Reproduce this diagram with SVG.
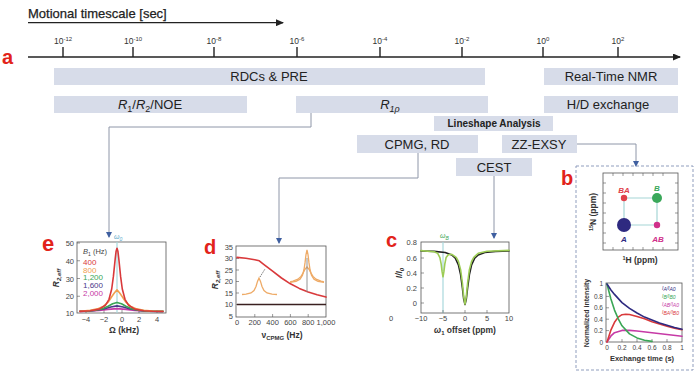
<svg xmlns="http://www.w3.org/2000/svg" width="700" height="374" viewBox="0 0 700 374">
<defs>
<marker id="ah" markerWidth="6" markerHeight="6" refX="5" refY="3" orient="auto" markerUnits="userSpaceOnUse"><path d="M0,0 L6,3 L0,6 Z" fill="#3f5fa0"/></marker>
<marker id="ak" markerWidth="8" markerHeight="7" refX="7" refY="3.5" orient="auto" markerUnits="userSpaceOnUse"><path d="M0,0 L8,3.5 L0,7 Z" fill="#222"/></marker>
<style>
text{font-family:"Liberation Sans",Arial,sans-serif;}
.box{fill:#d7dce9;}
.bt{font-size:13px;fill:#222;text-anchor:middle;}
.tl{font-size:8.5px;fill:#333;text-anchor:middle;}
.lt{font-size:20px;font-weight:bold;fill:#e2231a;}
.fr{fill:#fff;stroke:#555;stroke-width:0.8;}
.tk{font-size:7.5px;fill:#444;}
.tkr{font-size:7.5px;fill:#444;text-anchor:end;}
.tkm{font-size:7.5px;fill:#444;text-anchor:middle;}
.ax{font-size:8.5px;font-weight:bold;fill:#333;text-anchor:middle;}
.cv{fill:none;stroke-width:1.6;stroke-linejoin:round;stroke-linecap:round;}
.con{fill:none;stroke:#8e96a8;stroke-width:1;marker-end:url(#ah);}
.mt{stroke:#555;stroke-width:0.6;}
</style>
</defs>
<rect width="700" height="374" fill="#fff"/>

<!-- timescale -->
<g id="timescale">
<text x="28" y="18" style="font-size:13px;fill:#222;stroke:#222;stroke-width:0.25">Motional timescale [sec]</text>
<line x1="28" y1="22.7" x2="283" y2="22.7" stroke="#222" stroke-width="1.3" marker-end="url(#ak)"/>
<line x1="28" y1="57" x2="680" y2="57" stroke="#222" stroke-width="1.4" marker-end="url(#ak)"/>
<g stroke="#222" stroke-width="1.4">
<line x1="63" y1="47" x2="63" y2="57"/><line x1="133" y1="47" x2="133" y2="57"/><line x1="214" y1="47" x2="214" y2="57"/><line x1="297" y1="47" x2="297" y2="57"/>
<line x1="380" y1="47" x2="380" y2="57"/><line x1="462" y1="47" x2="462" y2="57"/><line x1="543" y1="47" x2="543" y2="57"/><line x1="618" y1="47" x2="618" y2="57"/>
</g>
<text class="tl" x="63" y="44">10<tspan dy="-3" font-size="6">-12</tspan></text>
<text class="tl" x="133" y="44">10<tspan dy="-3" font-size="6">-10</tspan></text>
<text class="tl" x="214" y="44">10<tspan dy="-3" font-size="6">-8</tspan></text>
<text class="tl" x="297" y="44">10<tspan dy="-3" font-size="6">-6</tspan></text>
<text class="tl" x="380" y="44">10<tspan dy="-3" font-size="6">-4</tspan></text>
<text class="tl" x="462" y="44">10<tspan dy="-3" font-size="6">-2</tspan></text>
<text class="tl" x="543" y="44">10<tspan dy="-3" font-size="6">0</tspan></text>
<text class="tl" x="618" y="44">10<tspan dy="-3" font-size="6">2</tspan></text>
<text class="lt" x="2" y="64">a</text>
</g>

<!-- method boxes -->
<g id="rdc"><rect class="box" x="54" y="68" width="431" height="17"/><text class="bt" x="269" y="81">RDCs &amp; PRE</text></g>
<g id="realtime"><rect class="box" x="544" y="68" width="134" height="17"/><text class="bt" x="611" y="81">Real-Time NMR</text></g>
<g id="r1r2noe"><rect class="box" x="54" y="96" width="193" height="17"/><text class="bt" x="150" y="109"><tspan font-style="italic">R</tspan><tspan font-size="9" dy="3">1</tspan><tspan dy="-3">/</tspan><tspan font-style="italic">R</tspan><tspan font-size="9" dy="3">2</tspan><tspan dy="-3">/NOE</tspan></text></g>
<g id="r1rho"><rect class="box" x="296" y="96" width="192" height="17"/><text class="bt" x="390" y="109"><tspan font-style="italic">R</tspan><tspan font-size="9" dy="3" font-style="italic">1ρ</tspan></text></g>
<g id="hd"><rect class="box" x="544" y="96" width="134" height="17"/><text class="bt" x="608" y="109">H/D exchange</text></g>
<g id="lineshape"><rect class="box" x="434" y="116" width="119" height="15"/><text x="494" y="127" style="font-size:10px;font-weight:bold;fill:#222;text-anchor:middle">Lineshape Analysis</text></g>
<g id="cpmg"><rect class="box" x="357" y="135" width="121" height="18"/><text class="bt" x="417" y="149">CPMG, RD</text></g>
<g id="zzexsy"><rect class="box" x="502" y="135" width="75" height="18"/><text class="bt" x="539" y="149">ZZ-EXSY</text></g>
<g id="cest"><rect class="box" x="456" y="158" width="76" height="18"/><text class="bt" x="494" y="172">CEST</text></g>

<!-- connectors -->
<g id="connectors">
<path class="con" d="M311,113 V127 H109 V237"/>
<path class="con" d="M418,153 V178 H279 V243"/>
<path class="con" d="M577,144 H636 V166"/>
<path class="con" d="M494,176 V238"/>
</g>

<!-- panel e -->
<g id="panel-e">
<text class="lt" x="42" y="251" style="font-size:22px">e</text>
<rect class="fr" x="77" y="242" width="89" height="71"/>
<line x1="117" y1="242" x2="117" y2="313" stroke="#a8d8dc" stroke-width="1.2"/>
<text x="114" y="239" style="font-size:7px;fill:#5aa8c8;font-style:italic">ω<tspan font-size="5" dy="1.5">0</tspan></text>
<g class="mt"><line x1="77" y1="243" x2="80" y2="243"/><line x1="77" y1="260.75" x2="80" y2="260.75"/><line x1="77" y1="278.5" x2="80" y2="278.5"/><line x1="77" y1="296.25" x2="80" y2="296.25"/>
<line x1="86" y1="313" x2="86" y2="310"/><line x1="104" y1="313" x2="104" y2="310"/><line x1="122" y1="313" x2="122" y2="310"/><line x1="139" y1="313" x2="139" y2="310"/><line x1="157" y1="313" x2="157" y2="310"/></g>
<text class="tkr" x="74" y="246">50</text><text class="tkr" x="74" y="263.5">40</text><text class="tkr" x="74" y="281.5">30</text><text class="tkr" x="74" y="299">20</text><text class="tkr" x="74" y="316">10</text>
<text class="tkm" x="86" y="322">−4</text><text class="tkm" x="104" y="322">−2</text><text class="tkm" x="122" y="322">0</text><text class="tkm" x="139" y="322">2</text><text class="tkm" x="157" y="322">4</text>
<text class="ax" x="124" y="333">Ω (kHz)</text>
<text class="ax" transform="translate(59,278) rotate(-90)" font-style="italic">R<tspan font-size="6" dy="2">2,eff</tspan></text>
<text x="83" y="254" style="font-size:7.5px;fill:#444"><tspan font-style="italic">B</tspan><tspan font-size="5" dy="1.5">1</tspan><tspan dy="-1.5"> (Hz)</tspan></text>
<text x="83" y="265" style="font-size:8px;fill:#d9393b">400</text>
<text x="83" y="272.5" style="font-size:8px;fill:#f0a050">800</text>
<text x="83" y="280" style="font-size:8px;fill:#3aa655">1,200</text>
<text x="83" y="287.5" style="font-size:8px;fill:#4b3a8a">1,600</text>
<text x="83" y="295.5" style="font-size:8px;fill:#c63aa6">2,000</text>
<polyline class="cv" stroke="#c63aa6" points="80,311.4 85.8,311.3 99.2,310.5 108.1,309.4 117,308.6 125.9,309.4 134.8,310.5 148.2,311.3 163,311.5"/>
<polyline class="cv" stroke="#4b3a8a" points="80,311.3 85.8,311.2 94.75,310.5 103.65,309 110.8,307 117,305.9 123.2,307 130.35,309 139.25,310.5 148.2,311.2 163,311.4"/>
<polyline class="cv" stroke="#3aa655" points="80,311.3 85.8,311.1 95.6,310.2 102.8,308.6 108.1,306.3 112.6,303.8 117,302.4 121.5,303.8 125.9,306.3 131.2,308.6 138.4,310.2 148.2,311.1 163,311.4"/>
<polyline class="cv" stroke="#f0a050" points="80,311.2 90.3,310.3 97.4,308.9 103.7,306.2 108.1,302.2 111.7,296.7 114.3,293 117,289.9 119.7,293 122.3,296.7 125.9,302.2 130.4,306.2 136.6,308.9 143.7,310.3 152.6,311 163,311.2"/>
<polyline class="cv" stroke="#d9393b" points="80,311.4 90.3,310.7 99.2,309.1 105.4,305.3 109,299.3 111.7,289 113.4,276.4 115.2,258.8 116.1,251.2 117,248.2 117.9,251.2 118.8,258.8 120.6,276.4 122.3,289 125,299.3 128.6,305.3 134.8,309.1 143.7,310.7 152.6,311.3 163,311.5"/>
</g>

<!-- panel d -->
<g id="panel-d">
<text class="lt" x="204" y="254">d</text>
<rect class="fr" x="236" y="246" width="90" height="71"/>
<g class="mt"><line x1="236" y1="258.5" x2="239" y2="258.5"/><line x1="236" y1="270" x2="239" y2="270"/><line x1="236" y1="281.5" x2="239" y2="281.5"/><line x1="236" y1="293" x2="239" y2="293"/><line x1="236" y1="304.5" x2="239" y2="304.5"/>
<line x1="254.8" y1="317" x2="254.8" y2="314"/><line x1="272.6" y1="317" x2="272.6" y2="314"/><line x1="290.4" y1="317" x2="290.4" y2="314"/><line x1="308.2" y1="317" x2="308.2" y2="314"/></g>
<text class="tkr" x="233" y="249.5">35</text><text class="tkr" x="233" y="261">30</text><text class="tkr" x="233" y="272.5">25</text><text class="tkr" x="233" y="284">20</text><text class="tkr" x="233" y="295.5">15</text><text class="tkr" x="233" y="307">10</text><text class="tkr" x="233" y="318.5">5</text>
<text class="tkm" x="237" y="325">0</text><text class="tkm" x="254.8" y="325">200</text><text class="tkm" x="272.6" y="325">400</text><text class="tkm" x="290.4" y="325">600</text><text class="tkm" x="308.2" y="325">800</text><text class="tkm" x="326" y="325">1,000</text>
<text class="ax" x="282" y="338">ν<tspan font-size="6" dy="2">CPMG</tspan><tspan dy="-2"> (Hz)</tspan></text>
<text class="ax" transform="translate(218,280) rotate(-90)" font-style="italic">R<tspan font-size="6" dy="2">2,eff</tspan></text>
<line x1="237" y1="304.5" x2="326" y2="304.5" stroke="#3a2020" stroke-width="1.5"/>
<polyline class="cv" stroke="#d9393b" points="237,257.35 245.9,258.3 254.8,259.7 259.3,260.8 263.7,264.3 272.6,271.2 281.5,278 290.4,283.8 299.3,288.4 308.2,291.9 317.1,294.8 326,297.1"/>
<polyline fill="none" stroke="#eeaa66" stroke-width="1.3" points="242,294.5 246,294.1 251,292.9 254,290.5 256,286.5 257.5,281.4 259,278 260.5,281.4 262,286.5 264,290.5 267,292.9 272,294.1 277,294.5"/>
<line x1="260" y1="277" x2="265" y2="269" stroke="#777" stroke-width="1" stroke-dasharray="1.5 1"/>
<polyline fill="none" stroke="#eeaa66" stroke-width="1.3" points="290,282.3 296,281.4 300,279.3 302.5,275.2 304,269.5 305,262.9 306,254.6 307,250 308,254.6 309,262.9 310,269.5 311.5,275.2 314,279.3 318,281.4 324,282.3"/>
<polyline fill="none" stroke="#eeaa66" stroke-width="1.3" points="290,281.8 293,281.2 298,279.2 301,276.4 303,273.2 305,269.2 307,267 309,269.2 311,273.2 313,276.4 316,279.2 321,281.2 324,281.8"/>
<line x1="307" y1="258" x2="307" y2="292" stroke="#888" stroke-width="0.9"/>
</g>

<!-- panel c -->
<g id="panel-c">
<text class="lt" x="386" y="247">c</text>
<rect class="fr" x="421" y="242" width="88" height="71"/>
<line x1="443" y1="242" x2="443" y2="313" stroke="#a8d8dc" stroke-width="1.2"/>
<text x="440" y="238" style="font-size:7px;fill:#3aa655;font-style:italic">ω<tspan font-size="5" dy="1.5">B</tspan></text>
<g class="mt"><line x1="421" y1="258" x2="424" y2="258"/><line x1="421" y1="273" x2="424" y2="273"/><line x1="421" y1="288" x2="424" y2="288"/><line x1="421" y1="303" x2="424" y2="303"/>
<line x1="443" y1="313" x2="443" y2="310"/><line x1="465" y1="313" x2="465" y2="310"/><line x1="487" y1="313" x2="487" y2="310"/></g>
<text class="tkr" x="417" y="245">0.8</text><text class="tkr" x="417" y="260.5">0.6</text><text class="tkr" x="417" y="275.5">0.4</text><text class="tkr" x="417" y="290.5">0.2</text><text class="tkr" x="417" y="305.5">0</text>
<text class="tkm" x="391" y="321">0</text>
<text class="tkm" x="421" y="321">−10</text><text class="tkm" x="443" y="321">−5</text><text class="tkm" x="465" y="321">0</text><text class="tkm" x="487" y="321">5</text><text class="tkm" x="509" y="321">10</text>
<text class="ax" x="465" y="333"><tspan font-style="italic">ω</tspan><tspan font-size="6" dy="2">1</tspan><tspan dy="-2"> offset (ppm)</tspan></text>
<text class="ax" transform="translate(402,273) rotate(-90)" font-style="italic">I/I<tspan font-size="6" dy="2">0</tspan></text>
<polyline class="cv" stroke="#222" stroke-width="1.4" points="421,251 434.2,251.4 445.2,252.5 451.8,255 455.3,258.2 458.4,264.8 460.6,274.6 462.4,287.8 463.7,299.1 465,304.5 466.3,299.1 467.6,287.8 469.4,274.6 471.6,264.8 474.7,258.2 478.2,255 484.8,252.5 495.8,251.4 509,251"/>
<polyline class="cv" stroke="#9ccc55" stroke-width="2" points="421,250.6 434.2,251.7 437.7,253.4 439.9,257.6 441.2,264.1 442.1,271.7 443,276.8 443.9,271.7 444.8,264.1 446.1,257.6 448.3,254.7 451.8,254.3 456.2,257.3 458.4,261.4 460.6,269.6 462.4,283 463.7,296.6 465,304.1 466.3,296.6 467.6,283 469.4,269.6 471.6,261.4 473.8,257.3 478.2,253.3 487,251.3 509,250.4"/>
</g>

<!-- panel b -->
<g id="panel-b">
<rect x="576" y="166" width="117" height="204" fill="none" stroke="#8f9dbd" stroke-width="1" stroke-dasharray="3 2"/>
<text class="lt" x="561" y="185">b</text>
<rect class="fr" x="603" y="173" width="75" height="77"/>
<g class="mt">
<line x1="603" y1="183" x2="606" y2="183"/><line x1="603" y1="193" x2="606" y2="193"/><line x1="603" y1="203" x2="606" y2="203"/><line x1="603" y1="213" x2="606" y2="213"/><line x1="603" y1="223" x2="606" y2="223"/><line x1="603" y1="233" x2="606" y2="233"/><line x1="603" y1="243" x2="606" y2="243"/>
<line x1="678" y1="183" x2="675" y2="183"/><line x1="678" y1="193" x2="675" y2="193"/><line x1="678" y1="203" x2="675" y2="203"/><line x1="678" y1="213" x2="675" y2="213"/><line x1="678" y1="223" x2="675" y2="223"/><line x1="678" y1="233" x2="675" y2="233"/><line x1="678" y1="243" x2="675" y2="243"/>
<line x1="613" y1="173" x2="613" y2="176"/><line x1="623" y1="173" x2="623" y2="176"/><line x1="633" y1="173" x2="633" y2="176"/><line x1="643" y1="173" x2="643" y2="176"/><line x1="653" y1="173" x2="653" y2="176"/><line x1="663" y1="173" x2="663" y2="176"/>
<line x1="613" y1="250" x2="613" y2="247"/><line x1="623" y1="250" x2="623" y2="247"/><line x1="633" y1="250" x2="633" y2="247"/><line x1="643" y1="250" x2="643" y2="247"/><line x1="653" y1="250" x2="653" y2="247"/><line x1="663" y1="250" x2="663" y2="247"/>
</g>
<path d="M624,198 H657 V225 H624 Z" fill="none" stroke="#a6d6d6" stroke-width="1.2"/>
<circle cx="624" cy="198" r="3.2" fill="#e0404a"/>
<circle cx="657" cy="198" r="5" fill="#3aa85a"/>
<circle cx="624" cy="225" r="7" fill="#2e2a80"/>
<circle cx="657" cy="225" r="3.2" fill="#d0308a"/>
<text x="624" y="193" style="font-size:8px;font-weight:bold;font-style:italic;fill:#e0404a;text-anchor:middle">BA</text>
<text x="657" y="191" style="font-size:8px;font-weight:bold;font-style:italic;fill:#3aa85a;text-anchor:middle">B</text>
<text x="624" y="242" style="font-size:8px;font-weight:bold;font-style:italic;fill:#2e2a80;text-anchor:middle">A</text>
<text x="658" y="242" style="font-size:8px;font-weight:bold;font-style:italic;fill:#d0308a;text-anchor:middle">AB</text>
<text class="ax" transform="translate(596,212) rotate(-90)"><tspan font-size="5.5" dy="-3">15</tspan><tspan dy="3">N (ppm)</tspan></text>
<text class="ax" x="640" y="263"><tspan font-size="5.5" dy="-3">1</tspan><tspan dy="3">H (ppm)</tspan></text>

<rect class="fr" x="606" y="283" width="76" height="59"/>
<g class="mt"><line x1="606" y1="296.4" x2="609" y2="296.4"/><line x1="606" y1="307.8" x2="609" y2="307.8"/><line x1="606" y1="319.2" x2="609" y2="319.2"/><line x1="606" y1="330.6" x2="609" y2="330.6"/>
<line x1="622" y1="342" x2="622" y2="339"/><line x1="637" y1="342" x2="637" y2="339"/><line x1="652" y1="342" x2="652" y2="339"/><line x1="667" y1="342" x2="667" y2="339"/></g>
<text class="tkr" x="603" y="286" style="font-size:6.5px">1</text><text class="tkr" x="603" y="298.5" style="font-size:6.5px">0.8</text><text class="tkr" x="603" y="310" style="font-size:6.5px">0.6</text><text class="tkr" x="603" y="321.5" style="font-size:6.5px">0.4</text><text class="tkr" x="603" y="333" style="font-size:6.5px">0.2</text><text class="tkr" x="603" y="344.5" style="font-size:6.5px">0</text>
<text class="tkm" x="607" y="350" style="font-size:6.5px">0</text><text class="tkm" x="622" y="350" style="font-size:6.5px">0.2</text><text class="tkm" x="637" y="350" style="font-size:6.5px">0.4</text><text class="tkm" x="652" y="350" style="font-size:6.5px">0.6</text><text class="tkm" x="667" y="350" style="font-size:6.5px">0.8</text><text class="tkm" x="682" y="350" style="font-size:6.5px">1</text>
<text class="ax" x="642" y="361" style="font-size:7.5px">Exchange time (s)</text>
<text class="ax" transform="translate(589,313) rotate(-90)" style="font-size:7px">Normalized intensity</text>
<g style="font-size:5px;font-style:italic">
<text x="662" y="290" fill="#2e2a80">I<tspan dy="1">A</tspan><tspan dy="-1">/I</tspan><tspan dy="1">A0</tspan></text>
<text x="662" y="298" fill="#3aa655">I<tspan dy="1">B</tspan><tspan dy="-1">/I</tspan><tspan dy="1">B0</tspan></text>
<text x="662" y="306" fill="#c63aa6">I<tspan dy="1">AB</tspan><tspan dy="-1">/I</tspan><tspan dy="1">A0</tspan></text>
<text x="662" y="314" fill="#d9393b">I<tspan dy="1">BA</tspan><tspan dy="-1">/I</tspan><tspan dy="1">B0</tspan></text>
</g>
<polyline class="cv" stroke="#c63aa6" stroke-width="1.3" points="607,342 610.75,336.2 614.5,332.7 622,330.4 629.5,330.4 637,331 652,332.7 667,334.5 682,336.2"/>
<polyline class="cv" stroke="#d9393b" stroke-width="1.3" points="607,342 610.75,330.4 614.5,322.3 618.25,317.1 622,314.7 625.75,314.2 629.5,314.5 637,316.5 644.5,318.8 652,321.7 659.5,324 667,326.3 674.5,328.1 682,329.8"/>
<polyline class="cv" stroke="#3aa655" stroke-width="1.3" points="607,284 610.75,298.5 614.5,310.1 618.25,318.8 622,325.8 629.5,333.9 637,337.9 644.5,340.3 652,341.4"/>
<polyline class="cv" stroke="#2e2a80" stroke-width="1.3" points="607,284 610.75,289.8 614.5,294.4 622,302.6 629.5,308.4 637,313 644.5,317.1 652,320 659.5,322.9 667,325.2 674.5,327.5 682,329.2"/>
</g>
</svg>
